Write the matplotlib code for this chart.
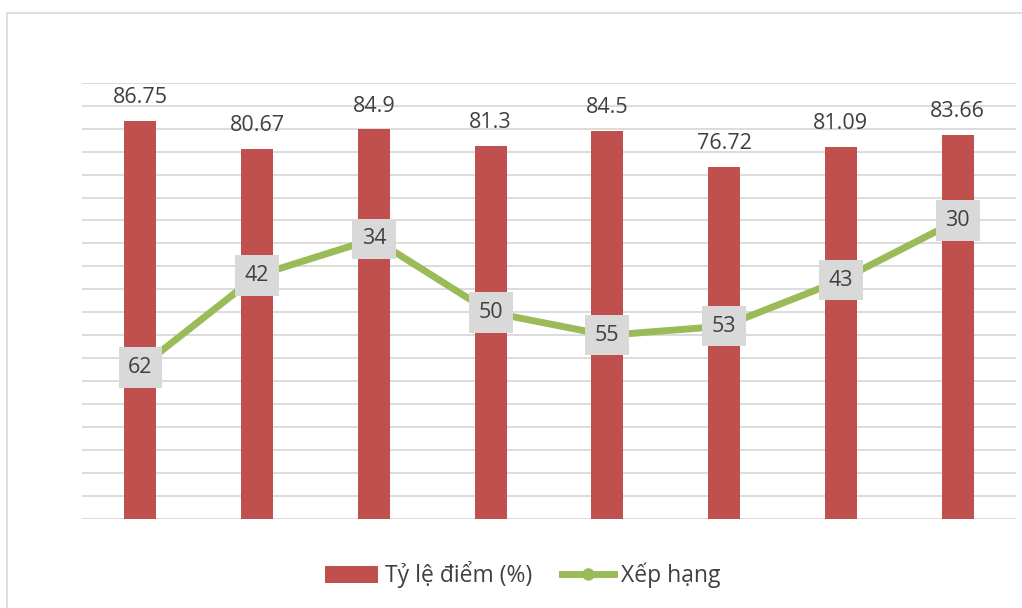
import matplotlib
matplotlib.use('Agg')
import matplotlib.pyplot as plt
from matplotlib.patches import Rectangle
from matplotlib.lines import Line2D
from matplotlib.patches import Patch

# data
categories = ['1', '2', '3', '4', '5', '6', '7', '8']
ty_le = [86.75, 80.67, 84.9, 81.3, 84.5, 76.72, 81.09, 83.66]
ty_le_labels = ['86.75', '80.67', '84.9', '81.3', '84.5', '76.72', '81.09', '83.66']
xep_hang = [62, 42, 34, 50, 55, 53, 43, 30]

bar_color = '#C0504D'
line_color = '#9BBB59'
text_color = '#404040'
grid_color = '#D9D9D9'

plt.rcParams['font.family'] = ['Open Sans', 'DejaVu Sans']

fig = plt.figure(figsize=(10.22, 6.08), dpi=100)

# chart border (cropped on the right and bottom like the reference)
fig.patches.append(Rectangle((7 / 1022, -0.05), 1.1, 1 - 13 / 608 + 0.05,
                             transform=fig.transFigure, fill=False,
                             edgecolor='#D9D9D9', linewidth=1.2))

ax = fig.add_axes([82 / 1022, 89 / 608, (1016 - 82) / 1022, (519 - 82.7) / 608])
x = list(range(len(categories)))

ax.set_ylim(0, 95)
ax.set_xlim(-0.5, len(categories) - 0.5)
ax.set_yticks(range(0, 96, 5))
ax.yaxis.grid(True, color=grid_color, linewidth=1.3)
ax.set_axisbelow(True)
for s in ax.spines.values():
    s.set_visible(False)

bars = ax.bar(x, ty_le, width=0.275, color=bar_color, zorder=2)
for xi, v, lab in zip(x, ty_le, ty_le_labels):
    ax.annotate(lab, (xi, v), xytext=(0, 9), textcoords='offset points',
                ha='center', va='bottom', fontsize=15.5, color=text_color)

ax2 = ax.twinx()
ax2.set_ylim(95, 0)
ax2.set_xlim(-0.5, len(categories) - 0.5)
for s in ax2.spines.values():
    s.set_visible(False)
for a in (ax, ax2):
    a.tick_params(left=False, right=False, bottom=False, labelleft=False,
                  labelright=False, labelbottom=False)
ax2.plot(x, xep_hang, color=line_color, linewidth=5, marker='o', markersize=8,
         solid_capstyle='round', zorder=3)
for xi, v in zip(x, xep_hang):
    ax2.text(xi, v, str(v), ha='center', va='center', fontsize=15.5, color=text_color,
             zorder=4,
             bbox=dict(boxstyle='square,pad=0.45', facecolor='#D9D9D9', edgecolor='none'))

handles = [Patch(facecolor=bar_color, edgecolor='none'),
           Line2D([0], [0], color=line_color, linewidth=5, marker='o', markersize=8)]
fig.legend(handles, ['Tỷ lệ điểm (%)', 'Xếp hạng'], loc='center',
           bbox_to_anchor=(523 / 1022, 1 - 575 / 608), ncol=2, frameon=False,
           fontsize=16.5, labelcolor=text_color, handlelength=2.3, handletextpad=0.3,
           columnspacing=1.3)

fig.savefig('out.png', dpi=100)
